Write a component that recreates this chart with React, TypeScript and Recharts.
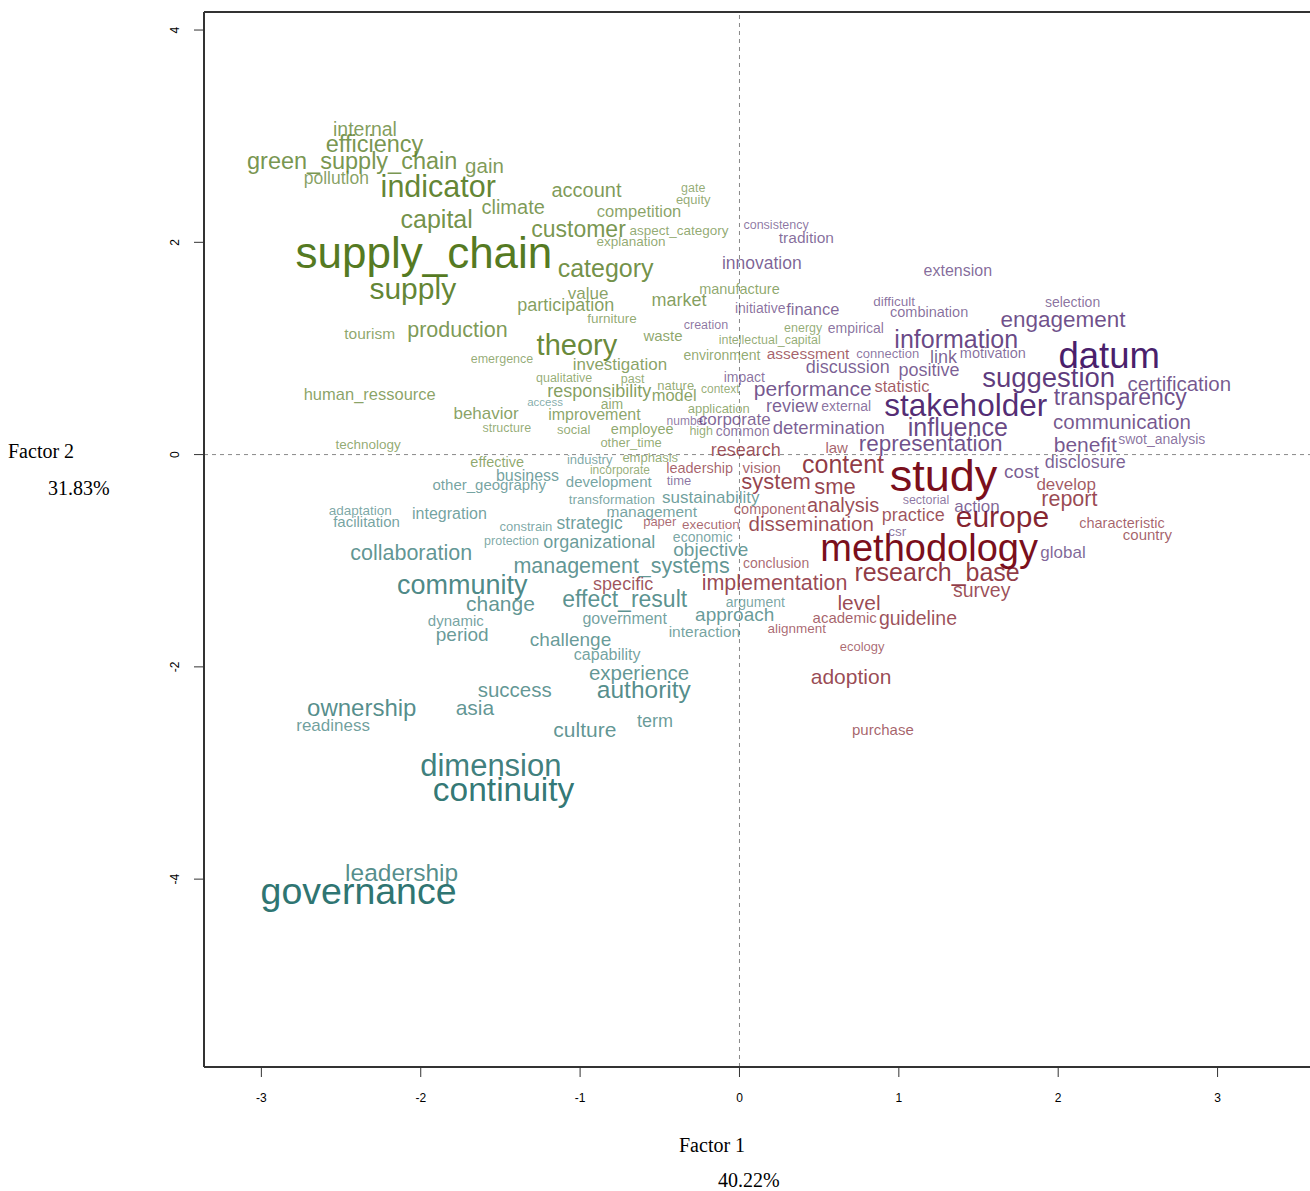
import { ScatterChart, Scatter, XAxis, YAxis, ReferenceLine } from "recharts";

// [word, factor 1, factor 2, weight]
type Word = [string, number, number, number];

const supplyChainWords: Word[] = [
  ["internal", -2.35, 3.07, 19.5],
  ["efficiency", -2.29, 2.93, 23.5],
  ["green_supply_chain", -2.43, 2.77, 23.5],
  ["gain", -1.6, 2.72, 20.5],
  ["pollution", -2.53, 2.61, 17.5],
  ["indicator", -1.89, 2.52, 30.5],
  ["climate", -1.42, 2.34, 20],
  ["account", -0.96, 2.5, 20],
  ["competition", -0.63, 2.3, 16.5],
  ["gate", -0.29, 2.52, 12.5],
  ["equity", -0.29, 2.41, 13],
  ["capital", -1.9, 2.22, 25],
  ["customer", -1.01, 2.13, 23],
  ["aspect_category", -0.38, 2.12, 13.5],
  ["explanation", -0.68, 2.02, 13.5],
  ["supply_chain", -1.98, 1.89, 44],
  ["category", -0.84, 1.76, 25],
  ["supply", -2.05, 1.56, 30],
  ["value", -0.95, 1.53, 17],
  ["participation", -1.09, 1.42, 18],
  ["market", -0.38, 1.46, 18],
  ["manufacture", 0.0, 1.57, 14.5],
  ["furniture", -0.8, 1.29, 13.5],
  ["tourism", -2.32, 1.15, 15.5],
  ["production", -1.77, 1.18, 21.5],
  ["waste", -0.48, 1.13, 15],
  ["theory", -1.02, 1.03, 29],
  ["emergence", -1.49, 0.91, 12.5],
  ["investigation", -0.75, 0.86, 17],
  ["environment", -0.11, 0.94, 14],
  ["qualitative", -1.1, 0.73, 12.5],
  ["past", -0.67, 0.72, 12.5],
  ["nature", -0.4, 0.66, 13],
  ["context", -0.12, 0.63, 12],
  ["responsibility", -0.88, 0.61, 18],
  ["model", -0.41, 0.56, 16.5],
  ["human_ressource", -2.32, 0.57, 16.5],
  ["aim", -0.8, 0.48, 14],
  ["behavior", -1.59, 0.4, 17],
  ["improvement", -0.91, 0.38, 16],
  ["structure", -1.46, 0.26, 12.5],
  ["social", -1.04, 0.24, 13],
  ["employee", -0.61, 0.25, 14.5],
  ["application", -0.13, 0.44, 13],
  ["high", -0.24, 0.23, 12.5],
  ["other_time", -0.68, 0.12, 13],
  ["technology", -2.33, 0.1, 13.5],
  ["energy", 0.4, 1.2, 12.5],
  ["intellectual_capital", 0.19, 1.09, 12.5],
  ["effective", -1.52, -0.06, 14.5],
  ["emphasis", -0.56, -0.02, 13],
  ["incorporate", -0.75, -0.14, 12],
];

const governanceWords: Word[] = [
  ["access", -1.22, 0.5, 11.5],
  ["industry", -0.94, -0.04, 13],
  ["business", -1.33, -0.19, 16],
  ["development", -0.82, -0.25, 15],
  ["other_geography", -1.57, -0.28, 15],
  ["transformation", -0.8, -0.41, 13.5],
  ["sustainability", -0.18, -0.4, 17],
  ["management", -0.55, -0.53, 15.5],
  ["adaptation", -2.38, -0.52, 13.5],
  ["facilitation", -2.34, -0.63, 15],
  ["integration", -1.82, -0.55, 16],
  ["constrain", -1.34, -0.67, 13],
  ["strategic", -0.94, -0.64, 17.5],
  ["protection", -1.43, -0.8, 12.5],
  ["organizational", -0.88, -0.82, 18],
  ["economic", -0.23, -0.77, 14],
  ["objective", -0.18, -0.89, 19],
  ["collaboration", -2.06, -0.92, 21.5],
  ["management_systems", -0.74, -1.04, 21.5],
  ["community", -1.74, -1.23, 27],
  ["change", -1.5, -1.4, 21],
  ["effect_result", -0.72, -1.36, 23],
  ["dynamic", -1.78, -1.56, 15],
  ["period", -1.74, -1.69, 19],
  ["government", -0.72, -1.54, 16],
  ["approach", -0.03, -1.5, 19],
  ["argument", 0.1, -1.38, 14],
  ["interaction", -0.22, -1.66, 15.5],
  ["challenge", -1.06, -1.74, 19],
  ["capability", -0.83, -1.88, 16],
  ["experience", -0.63, -2.05, 20.5],
  ["authority", -0.6, -2.21, 24.5],
  ["success", -1.41, -2.21, 20.5],
  ["ownership", -2.37, -2.38, 24],
  ["asia", -1.66, -2.38, 21],
  ["readiness", -2.55, -2.54, 17],
  ["culture", -0.97, -2.59, 21],
  ["term", -0.53, -2.5, 18],
  ["dimension", -1.56, -2.93, 31],
  ["continuity", -1.48, -3.16, 33.5],
  ["leadership", -2.12, -3.94, 24.5],
  ["governance", -2.39, -4.12, 37.5],
];

const methodWords: Word[] = [
  ["research", 0.04, 0.05, 18],
  ["law", 0.61, 0.07, 15],
  ["leadership", -0.25, -0.12, 14.5],
  ["vision", 0.14, -0.12, 15],
  ["content", 0.65, -0.09, 25],
  ["study", 1.28, -0.21, 45],
  ["system", 0.23, -0.25, 22],
  ["sme", 0.6, -0.3, 22],
  ["analysis", 0.65, -0.47, 20],
  ["component", 0.19, -0.51, 14.5],
  ["practice", 1.09, -0.56, 18],
  ["europe", 1.65, -0.59, 30],
  ["paper", -0.5, -0.62, 13],
  ["execution", -0.18, -0.65, 13.5],
  ["dissemination", 0.45, -0.65, 20.5],
  ["methodology", 1.19, -0.88, 38],
  ["conclusion", 0.23, -1.02, 14],
  ["specific", -0.73, -1.21, 18],
  ["implementation", 0.22, -1.2, 21.5],
  ["research_base", 1.24, -1.11, 25],
  ["survey", 1.52, -1.27, 19.5],
  ["level", 0.75, -1.39, 21],
  ["academic", 0.66, -1.53, 15],
  ["guideline", 1.12, -1.54, 19.5],
  ["alignment", 0.36, -1.63, 13.5],
  ["ecology", 0.77, -1.8, 13],
  ["adoption", 0.7, -2.09, 21],
  ["purchase", 0.9, -2.59, 15],
  ["develop", 2.05, -0.27, 17],
  ["report", 2.07, -0.41, 21.5],
  ["characteristic", 2.4, -0.64, 14.5],
  ["country", 2.56, -0.75, 15],
  ["statistic", 1.02, 0.65, 16.5],
  ["assessment", 0.43, 0.96, 15.5],
];

const stakeholderWords: Word[] = [
  ["consistency", 0.23, 2.17, 12.5],
  ["tradition", 0.42, 2.05, 15.5],
  ["innovation", 0.14, 1.81, 17.5],
  ["extension", 1.37, 1.74, 16],
  ["initiative", 0.13, 1.39, 14],
  ["finance", 0.46, 1.37, 16.5],
  ["difficult", 0.97, 1.45, 13.5],
  ["combination", 1.19, 1.35, 14.5],
  ["selection", 2.09, 1.44, 14],
  ["engagement", 2.03, 1.28, 22.5],
  ["creation", -0.21, 1.23, 12.5],
  ["empirical", 0.73, 1.2, 14],
  ["information", 1.36, 1.09, 25],
  ["datum", 2.32, 0.93, 36.5],
  ["link", 1.28, 0.93, 18],
  ["motivation", 1.59, 0.96, 14.5],
  ["connection", 0.93, 0.96, 13],
  ["discussion", 0.68, 0.83, 18],
  ["positive", 1.19, 0.8, 18],
  ["impact", 0.03, 0.74, 14],
  ["suggestion", 1.94, 0.73, 27.5],
  ["performance", 0.46, 0.62, 21],
  ["certification", 2.76, 0.67, 20.5],
  ["review", 0.33, 0.46, 18],
  ["external", 0.67, 0.46, 14],
  ["stakeholder", 1.42, 0.46, 31.5],
  ["transparency", 2.39, 0.54, 23],
  ["communication", 2.4, 0.31, 20.5],
  ["corporate", -0.03, 0.34, 17],
  ["number", -0.33, 0.33, 12],
  ["common", 0.02, 0.23, 14],
  ["determination", 0.56, 0.26, 18.5],
  ["influence", 1.37, 0.26, 25],
  ["representation", 1.2, 0.11, 22.5],
  ["benefit", 2.17, 0.1, 21],
  ["swot_analysis", 2.65, 0.15, 14],
  ["disclosure", 2.17, -0.06, 18],
  ["cost", 1.77, -0.15, 19],
  ["time", -0.38, -0.24, 13],
  ["sectorial", 1.17, -0.42, 12.5],
  ["action", 1.49, -0.48, 17],
  ["csr", 0.99, -0.72, 13.5],
  ["global", 2.03, -0.91, 17],
];

const xTicks = [-3, -2, -1, 0, 1, 2, 3];
const yTicks = [-4, -2, 0, 2, 4];
const xTitle = ["Factor 1", "40.22%"];
const yTitle = ["Factor 2", "31.83%"];

const X_DOMAIN: [number, number] = [-3.36, 3.58];
const Y_DOMAIN: [number, number] = [-5.77, 4.17];
const SANS = "'Liberation Sans', Arial, Helvetica, sans-serif";
const SERIF = "'Liberation Serif', 'Times New Roman', serif";

const clusters = [
  { name: "supply chain", words: supplyChainWords, color: "#557a22" },
  { name: "governance", words: governanceWords, color: "#2f7572" },
  { name: "method", words: methodWords, color: "#7a0f1c" },
  { name: "stakeholder", words: stakeholderWords, color: "#4a1f6c" },
];

function toRows(list: Word[]) {
  return list.map(([word, f1, f2, weight]) => ({ word, f1, f2, weight }));
}

function WordMark(props: any) {
  const { cx, cy, payload, color } = props;
  if (cx == null || cy == null) return null;
  const size = payload.weight;
  // bigger words are drawn darker, like the original cloud
  const t = Math.min(1, Math.max(0, (size - 11) / 24));
  return (
    <text
      x={cx}
      y={cy + 1.5 + size * 0.29}
      textAnchor="middle"
      fontSize={size}
      fontFamily={SANS}
      fill={color}
      fillOpacity={0.6 + 0.4 * t}
    >
      {payload.word}
    </text>
  );
}

function XTick({ x, y, payload }: any) {
  return (
    <text x={x} y={y + 21} textAnchor="middle" fontSize={12} fontFamily={SANS} fill="#000">
      {payload.value}
    </text>
  );
}

function YTick({ x, y, payload }: any) {
  const tx = x - 15;
  return (
    <text
      x={tx}
      y={y}
      transform={`rotate(-90 ${tx} ${y})`}
      textAnchor="middle"
      dominantBaseline="central"
      fontSize={12}
      fontFamily={SANS}
      fill="#000"
    >
      {payload.value}
    </text>
  );
}

export default function App() {
  return (
    <div
      style={{
        position: "absolute",
        left: 0,
        top: 0,
        width: 1310,
        height: 1191,
        background: "#fff",
        overflow: "hidden",
      }}
    >
      <ScatterChart width={1310} height={1191} margin={{ top: 12, right: 0, bottom: 74, left: 150 }}>
        <XAxis
          type="number"
          dataKey="f1"
          domain={X_DOMAIN}
          ticks={xTicks}
          allowDataOverflow
          height={50}
          tickSize={10}
          tickMargin={4}
          tick={<XTick />}
          axisLine={{ stroke: "#333", strokeWidth: 2 }}
          tickLine={{ stroke: "#333" }}
        />
        <YAxis
          type="number"
          dataKey="f2"
          domain={Y_DOMAIN}
          ticks={yTicks}
          allowDataOverflow
          width={54}
          tickSize={10}
          tickMargin={4}
          tick={<YTick />}
          axisLine={{ stroke: "#333", strokeWidth: 2 }}
          tickLine={{ stroke: "#333" }}
        />
        <ReferenceLine y={Y_DOMAIN[1]} stroke="#333" strokeWidth={2} />
        <ReferenceLine x={0} stroke="#888" strokeDasharray="4 4" />
        <ReferenceLine y={0} stroke="#888" strokeDasharray="4 4" />
        {clusters.map((c) => (
          <Scatter
            key={c.name}
            name={c.name}
            data={toRows(c.words)}
            isAnimationActive={false}
            shape={(p: any) => <WordMark {...p} color={c.color} />}
          />
        ))}
      </ScatterChart>
      <svg
        width={1310}
        height={1191}
        style={{ position: "absolute", left: 0, top: 0, pointerEvents: "none" }}
      >
        <text x={8} y={458} fontSize={20} fontFamily={SERIF} fill="#000">
          {yTitle[0]}
        </text>
        <text x={48} y={495} fontSize={20} fontFamily={SERIF} fill="#000">
          {yTitle[1]}
        </text>
        <text x={679} y={1152} fontSize={20} fontFamily={SERIF} fill="#000">
          {xTitle[0]}
        </text>
        <text x={718} y={1187} fontSize={20} fontFamily={SERIF} fill="#000">
          {xTitle[1]}
        </text>
      </svg>
    </div>
  );
}
